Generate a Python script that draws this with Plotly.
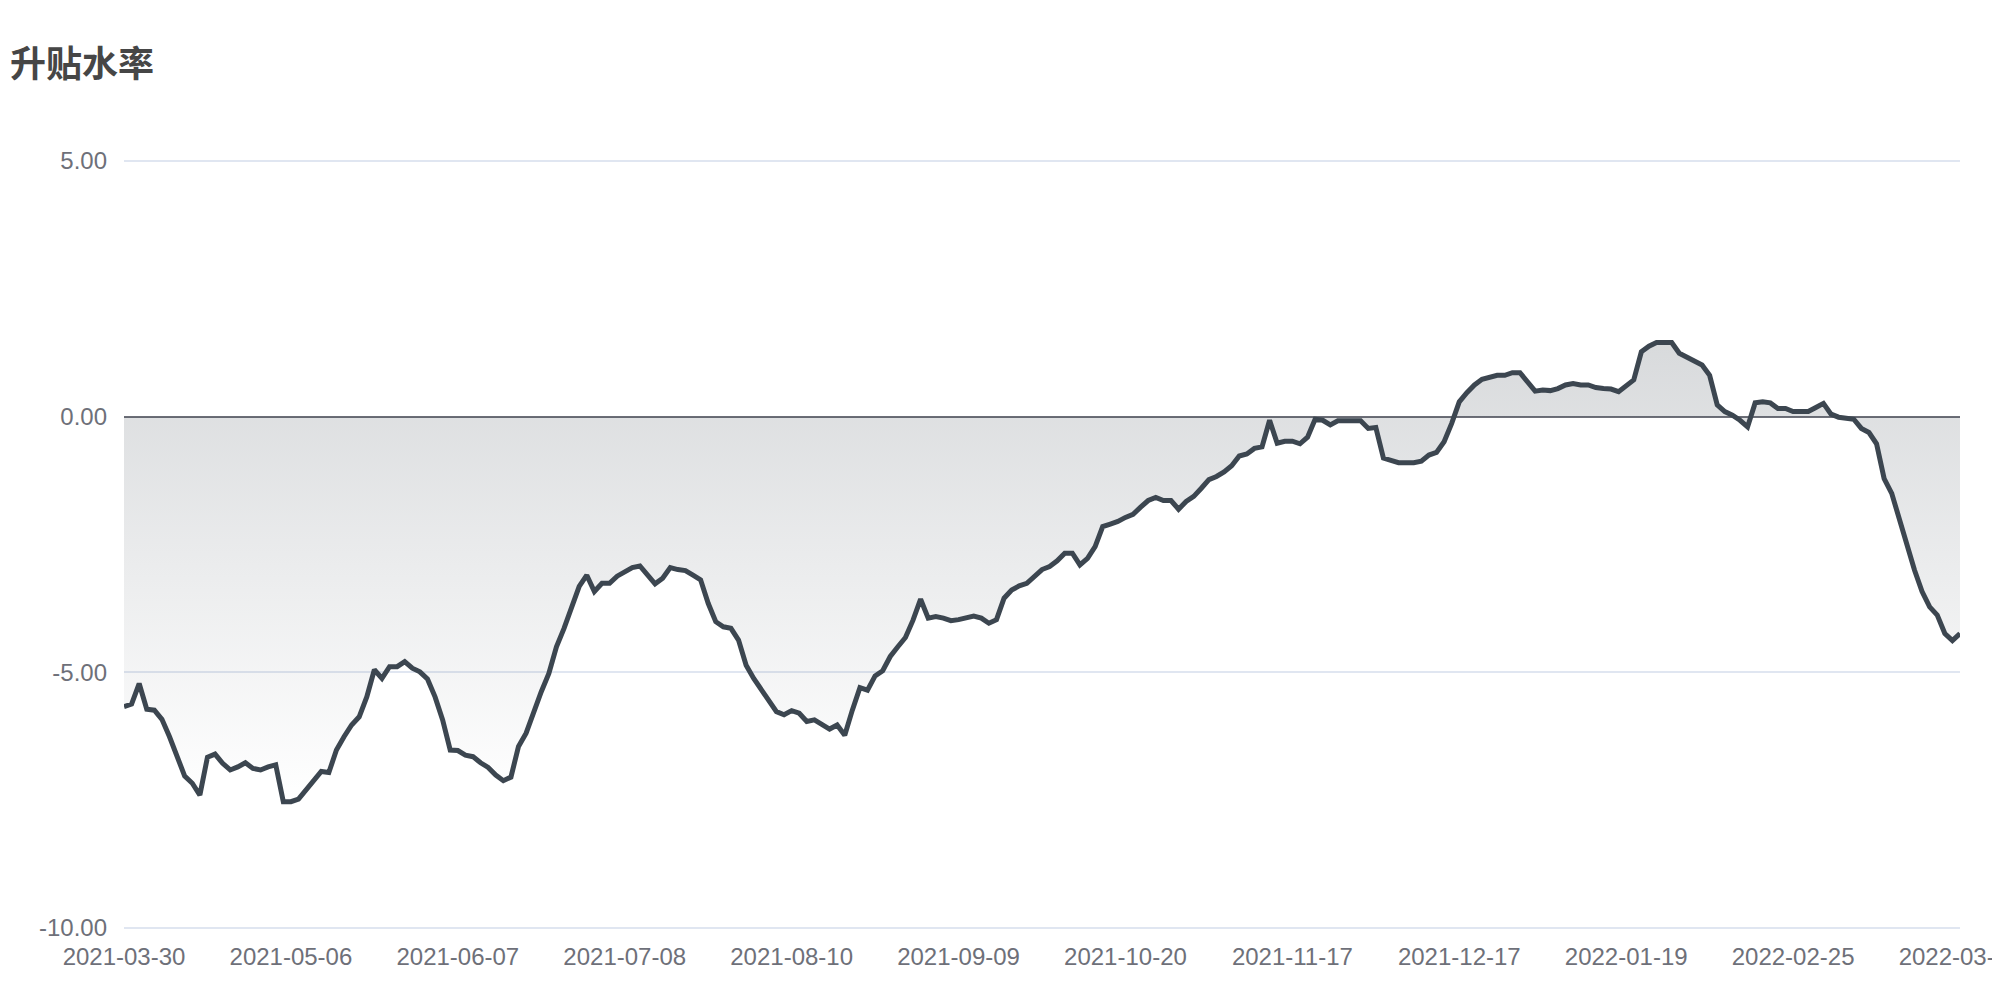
import pandas as pd
import plotly.graph_objects as go

# Trading-day categories (China exchange calendar)
holidays = ["2021-04-05", "2021-05-03", "2021-05-04", "2021-05-05", "2021-06-14",
            "2021-09-20", "2021-09-21", "2021-10-01", "2021-10-04", "2021-10-05",
            "2021-10-06", "2021-10-07", "2022-01-03", "2022-01-31", "2022-02-01",
            "2022-02-02", "2022-02-03", "2022-02-04"]
dates = [d.strftime("%Y-%m-%d") for d in pd.bdate_range("2021-03-30", "2022-03-29")
         if d.strftime("%Y-%m-%d") not in holidays]

tick_labels = ["2021-03-30", "2021-05-06", "2021-06-07", "2021-07-08", "2021-08-10",
               "2021-09-09", "2021-10-20", "2021-11-17", "2021-12-17", "2022-01-19",
               "2022-02-25", "2022-03-29"]

y_tick_values = [-10, -5, 0, 5]
y_tick_labels = ["-10.00", "-5.00", "0.00", "5.00"]

basis_rate = [
    -5.67, -5.62, -5.22, -5.72, -5.74, -5.92, -6.26, -6.62, -7.03, -7.17,
    -7.40, -6.66, -6.60, -6.78, -6.91, -6.85, -6.77, -6.88, -6.91, -6.85,
    -6.81, -7.53, -7.53, -7.48, -7.31, -7.12, -6.94, -6.96, -6.52, -6.26,
    -6.03, -5.87, -5.48, -4.95, -5.12, -4.89, -4.89, -4.79, -4.92, -4.99,
    -5.13, -5.48, -5.93, -6.52, -6.53, -6.62, -6.65, -6.77, -6.86, -7.01,
    -7.12, -7.05, -6.45, -6.19, -5.77, -5.38, -5.02, -4.50, -4.14, -3.72,
    -3.32, -3.10, -3.42, -3.26, -3.26, -3.12, -3.03, -2.95, -2.92, -3.08,
    -3.27, -3.16, -2.95, -2.99, -3.01, -3.10, -3.19, -3.65, -4.01, -4.11,
    -4.14, -4.37, -4.86, -5.12, -5.35, -5.57, -5.77, -5.83, -5.75, -5.80,
    -5.96, -5.93, -6.01, -6.11, -6.03, -6.23, -5.74, -5.30, -5.35, -5.07,
    -4.97, -4.69, -4.50, -4.32, -3.98, -3.57, -3.94, -3.91, -3.94, -3.99,
    -3.97, -3.93, -3.90, -3.94, -4.04, -3.97, -3.55, -3.39, -3.31, -3.26,
    -3.13, -2.99, -2.93, -2.82, -2.67, -2.67, -2.90, -2.77, -2.54, -2.15,
    -2.10, -2.05, -1.97, -1.91, -1.77, -1.64, -1.58, -1.64, -1.64, -1.81,
    -1.66, -1.56, -1.40, -1.23, -1.17, -1.08, -0.96, -0.77, -0.73, -0.62,
    -0.59, -0.07, -0.52, -0.48, -0.48, -0.53, -0.40, -0.05, -0.07, -0.16,
    -0.08, -0.08, -0.08, -0.08, -0.23, -0.21, -0.81, -0.85, -0.90, -0.90,
    -0.90, -0.87, -0.75, -0.70, -0.49, -0.13, 0.29, 0.47, 0.62, 0.73,
    0.78, 0.81, 0.81, 0.86, 0.86, 0.66, 0.50, 0.52, 0.51, 0.55,
    0.62, 0.65, 0.62, 0.62, 0.57, 0.55, 0.54, 0.49, 0.62, 0.72,
    1.27, 1.38, 1.45, 1.45, 1.45, 1.24, 1.16, 1.10, 1.01, 0.81,
    0.23, 0.10, 0.03, -0.07, -0.20, 0.27, 0.29, 0.27, 0.16, 0.16,
    0.10, 0.10, 0.10, 0.18, 0.26, 0.05, -0.01, -0.03, -0.05, -0.23,
    -0.31, -0.53, -1.21, -1.50, -2.02, -2.54, -3.00, -3.42, -3.72, -3.88,
    -4.24, -4.38, -4.24,
]

n = min(len(dates), len(basis_rate))
x = dates[:n]
y = basis_rate[:n]

tick_step = 22
tickvals = [x[i] for i in range(0, n, tick_step)]
ticktext = tick_labels[:len(tickvals)]

line_color = "#3c4650"
axis_text = "#6e7079"
grid_color = "#e0e6f1"
num_font = "Liberation Sans, Arial, sans-serif"

fig = go.Figure()
fig.add_trace(go.Scatter(
    x=x, y=y, mode="lines",
    line=dict(color=line_color, width=5),
    fill="tozeroy",
    fillgradient=dict(
        type="vertical",
        colorscale=[[0, "rgba(60,70,80,0)"], [1, "rgba(60,70,80,0.2)"]],
        start=min(y), stop=max(y),
    ),
    hoverinfo="x+y",
    showlegend=False,
))

fig.update_layout(
    width=1992, height=992,
    paper_bgcolor="white", plot_bgcolor="white",
    margin=dict(l=116, r=40, t=151, b=70),
    title=dict(
        text="<b>升贴水率</b>",
        font=dict(family="Noto Sans CJK SC, sans-serif", size=36, color="#464646"),
        xref="container", yref="container",
        x=0.001, xanchor="left", y=0.943, yanchor="middle",
    ),
    font=dict(family=num_font, size=24, color=axis_text),
)

fig.update_xaxes(
    type="category",
    range=[0, n - 1],
    tickmode="array", tickvals=tickvals, ticktext=ticktext,
    showgrid=False, showline=False, zeroline=False,
    ticks="", ticklabelstandoff=10,
    tickfont=dict(family=num_font, size=24, color=axis_text),
    automargin=False,
)
fig.update_yaxes(
    range=[-10.04, 5.04],
    tickmode="array", tickvals=y_tick_values, ticktext=y_tick_labels,
    showgrid=True, gridcolor=grid_color, gridwidth=2,
    zeroline=True, zerolinecolor=axis_text, zerolinewidth=2,
    showline=False, ticks="", ticklabelstandoff=16,
    tickfont=dict(family=num_font, size=24, color=axis_text),
    automargin=False,
)

fig.write_html("out.html")
